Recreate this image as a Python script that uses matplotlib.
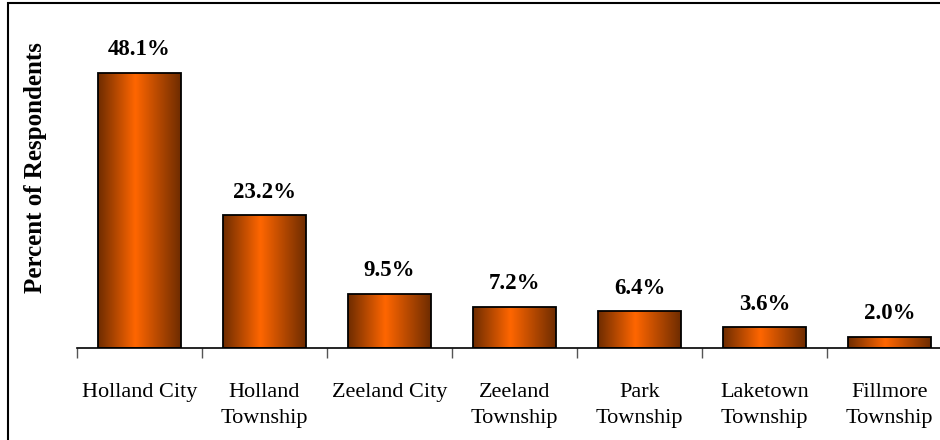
import numpy as np
import matplotlib.pyplot as plt
from matplotlib.patches import Rectangle
from matplotlib.colors import LinearSegmentedColormap

categories = ['Holland City', 'Holland\nTownship', 'Zeeland City', 'Zeeland\nTownship',
              'Park\nTownship', 'Laketown\nTownship', 'Fillmore\nTownship']
values = [48.1, 23.2, 9.5, 7.2, 6.4, 3.6, 2.0]
labels = ['48.1%', '23.2%', '9.5%', '7.2%', '6.4%', '3.6%', '2.0%']

plt.rcParams['font.family'] = ['Liberation Serif', 'DejaVu Serif']

fig = plt.figure(figsize=(9.4, 4.4), dpi=100)
# axes area in pixels: x from 77 to 952, baseline at y=348
ax = fig.add_axes([77 / 940, 92 / 440, 875 / 940, 343 / 440])

cmap = LinearSegmentedColormap.from_list(
    'bar', [(0, '#6e2c00'), (0.45, '#ff6600'), (1, '#6e2c00')])
grad = np.linspace(0, 1, 256).reshape(1, -1)
w = 0.66
for i, v in enumerate(values):
    im = ax.imshow(grad, cmap=cmap, aspect='auto',
                   extent=(i - w / 2, i + w / 2, 0, v), zorder=2)
    r = Rectangle((i - w / 2, 0), w, v, facecolor='none', edgecolor='black',
                  linewidth=1.3, zorder=3)
    ax.add_patch(r)
    im.set_clip_path(r)
    ax.text(i, v + 2.2, labels[i], ha='center', va='bottom',
            fontsize=16.5, fontweight='bold')
ax.set_xlim(-0.5, len(values) - 0.5)
ax.set_ylim(0, 60)

for s in ['top', 'right', 'left']:
    ax.spines[s].set_visible(False)
ax.spines['bottom'].set_linewidth(1.2)
ax.set_yticks([])
ax.set_xticks(range(len(values)))
ax.set_xticklabels(categories, fontsize=16, linespacing=1.55)
ax.tick_params(axis='x', which='major', length=0, pad=25)
ax.set_xticks(np.arange(-0.5, len(values)), minor=True)
ax.tick_params(axis='x', which='minor', length=7, color='#555555', width=1)

fig.text(36 / 940, 1 - 168 / 440, 'Percent of Respondents', rotation=90,
         ha='center', va='center', fontsize=18, fontweight='bold')

fig.patches.append(Rectangle((8 / 940, -0.1), 1.1, 1 - 3 / 440 + 0.1,
                             transform=fig.transFigure, fill=False,
                             edgecolor='black', linewidth=1.5))

fig.savefig('out.png', dpi=100)
